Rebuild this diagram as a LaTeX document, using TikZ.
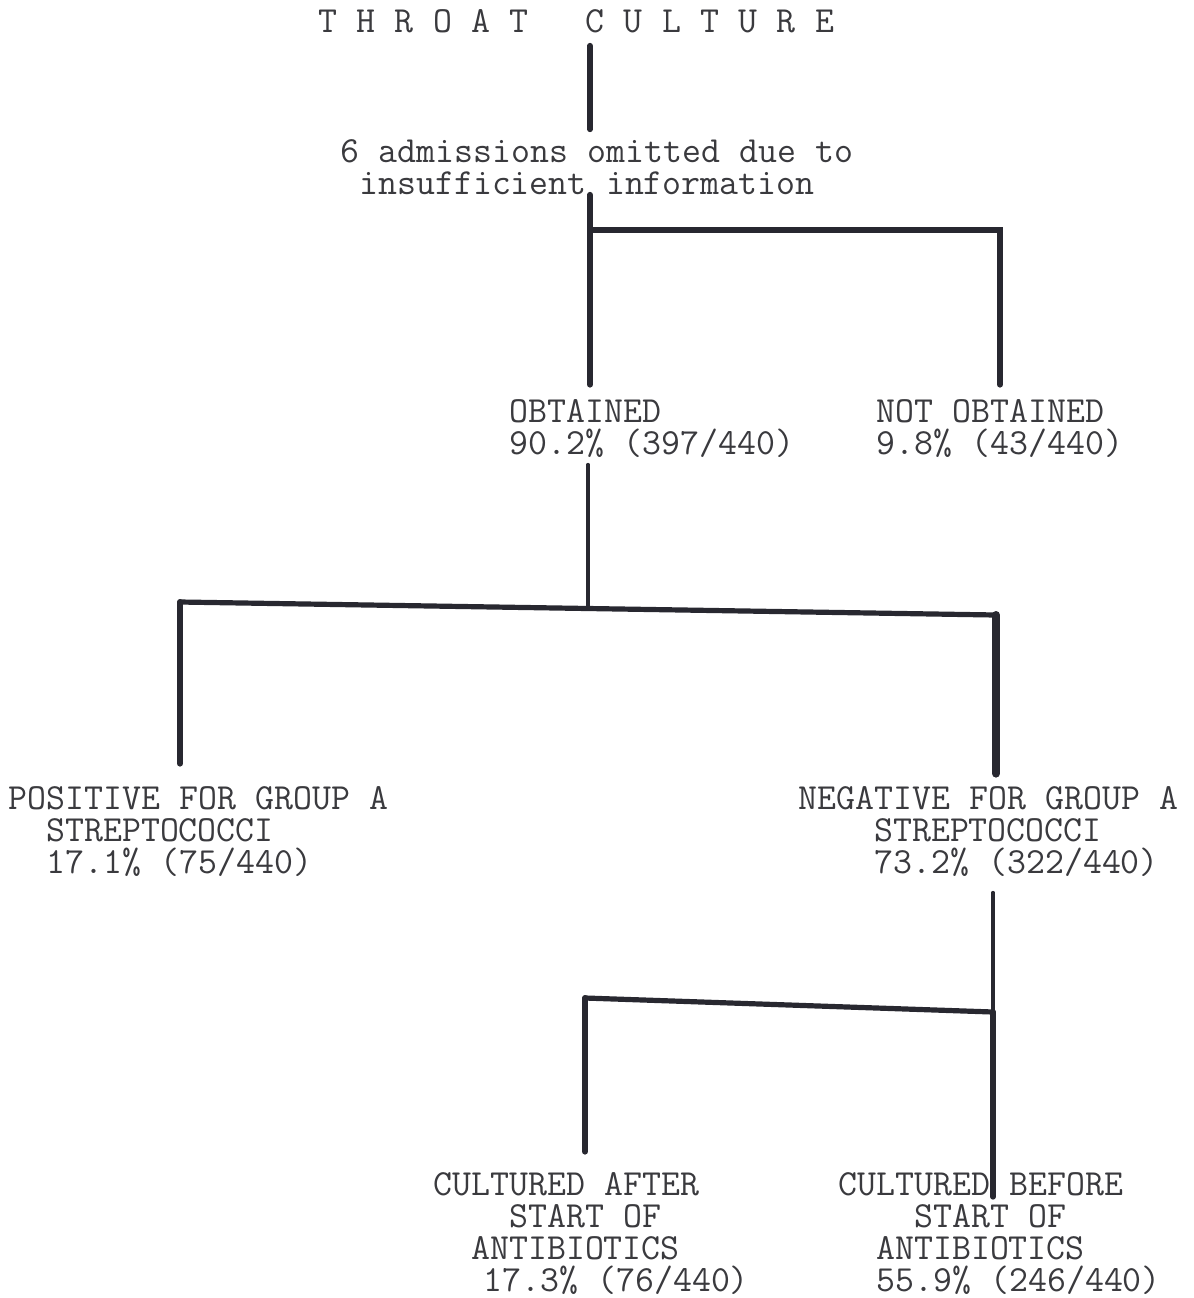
\documentclass[tikz,border=0pt]{standalone}
\usepackage{fontspec}
\usetikzlibrary{calc}
\definecolor{ink}{RGB}{40,40,48}
\definecolor{typeink}{RGB}{58,58,62}
\newcommand{\typewriter}{\ttfamily\fontsize{18.4}{16}\selectfont}
\newcommand{\fixspace}{\spaceskip=9.66pt\relax\xspaceskip=9.66pt\relax}

\begin{document}
\begin{tikzpicture}[x=0.5pt, y=-0.5pt, line cap=round]
\tikzstyle{typed}=[inner sep=0pt, anchor=base west, text width=280pt, align=left, text=typeink, font=\typewriter, execute at begin node=\fixspace]
\tikzstyle{bar}=[draw=ink, line width=3pt]
\tikzstyle{thinbar}=[draw=ink, line width=1.6pt]
\useasboundingbox (0,0) rectangle (1194,1298);
\node[typed]    (T)  at (318,32)    {T H R O A T\phantom{000}C U L T U R E};
\node[typed]    (O)  at (340,162)   {6 admissions omitted due to\\\phantom{0}insufficient information};
\node[typed]    (OB) at (509,422)   {OBTAINED\\90.2\% (397/440)};
\node[typed]    (NO) at (876,422)   {NOT OBTAINED\\9.8\% (43/440)};
\node[typed]    (P)  at (8,809)     {POSITIVE FOR GROUP A\\\phantom{00}STREPTOCOCCI\\\phantom{00}17.1\% (75/440)};
\node[typed]    (N)  at (798,809)   {NEGATIVE FOR GROUP A\\\phantom{0000}STREPTOCOCCI\\\phantom{0000}73.2\% (322/440)};
\node[typed]    (A)  at (433,1195)  {CULTURED AFTER\\\phantom{0000}START OF\\\phantom{00}ANTIBIOTICS\\\phantom{00}\hspace*{6pt}17.3\% (76/440)};
\node[typed]    (B)  at (838,1195)  {CULTURED BEFORE\\\phantom{0000}START OF\\\phantom{00}ANTIBIOTICS\\\phantom{00}55.9\% (246/440)};
%
\coordinate (j1)  at (590,230);
\coordinate (j1r) at (1000,230);
\coordinate (j2l) at (180,602);
\coordinate (j2r) at (996,615);
\coordinate (j2)  at ($(j2l)!0.5!(j2r)$);
\coordinate (j3l) at (585,998);
\coordinate (j3r) at (993,1012);
%
\draw[bar, shorten <=6.5pt, shorten >=4.75pt] (T.south -| j1) -- (O.north -| j1);
\draw[bar, shorten >=7pt] (O.south -| j1) -- (j1) -- (OB.north -| j1);
\draw[bar, shorten >=7pt] (j1) -- (j1r) -- (NO.north -| j1r);
%
\draw[thinbar, shorten <=3.5pt] (OB.south -| j2) -- (j2);
\draw[bar, line width=2.6pt] (j2l) -- (j2r);
\draw[bar, shorten >=11pt] (j2l) -- (P.north -| j2l);
\draw[bar, line width=4pt, shorten >=6pt] (j2r) -- (N.north -| j2r);
%
\draw[thinbar, shorten <=8pt] (N.south -| j3r) -- (j3r);
\draw[bar, line width=2.6pt] (j3l) -- (j3r);
\draw[bar, shorten >=10pt] (j3l) -- (A.north -| j3l);
\draw[bar, shorten >=-12.5pt] (j3r) -- (B.north -| j3r);
\end{tikzpicture}
\end{document}
